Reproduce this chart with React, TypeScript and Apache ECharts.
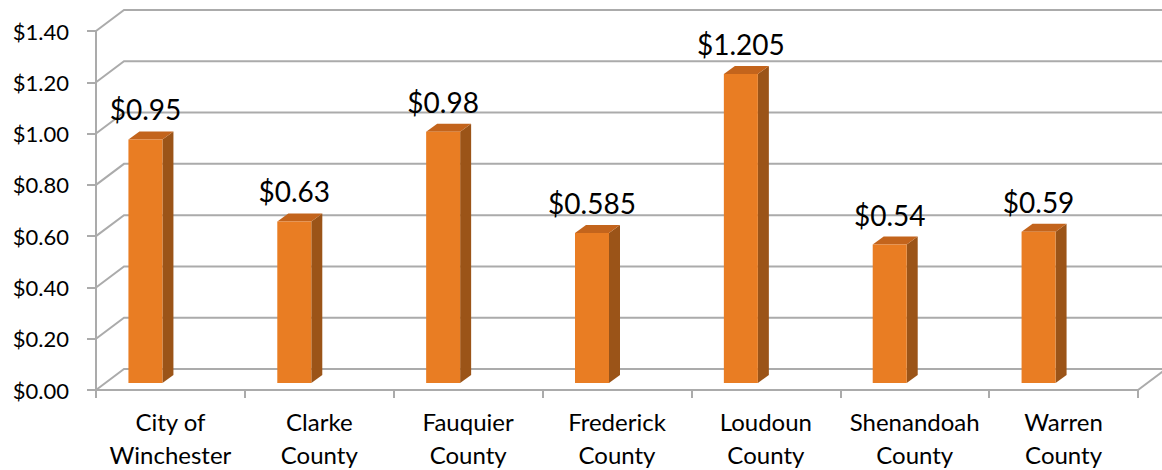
import React, { useEffect, useRef } from "react";
import * as echarts from "echarts";

const categories = [
  "City of\nWinchester",
  "Clarke\nCounty",
  "Fauquier\nCounty",
  "Frederick\nCounty",
  "Loudoun\nCounty",
  "Shenandoah\nCounty",
  "Warren\nCounty",
];
const values = [0.95, 0.63, 0.98, 0.585, 1.205, 0.54, 0.59];
const yTicks = [0, 0.2, 0.4, 0.6, 0.8, 1.0, 1.2, 1.4];

const GRID_COLOR = "#ABABAB";
const FRONT = "#E97D23";
const TOP = "#C3641C";
const SIDE = "#9B5418";
const FONT = "Lato, 'Open Sans', sans-serif";

function money(v: number): string {
  const s = String(v);
  const dec = s.includes(".") ? s.split(".")[1].length : 0;
  return "$" + v.toFixed(Math.max(2, dec));
}

export default function App() {
  const ref = useRef<HTMLDivElement>(null);
  useEffect(() => {
    document.body.style.margin = "0";
    if (!ref.current) return;
    const chart = echarts.init(ref.current, undefined, { renderer: "svg" });
    const DX = 28;
    const DY = 21;
    chart.setOption({
      animation: false,
      backgroundColor: "#ffffff",
      grid: {
        left: 96,
        right: 24,
        top: 31,
        bottom: 80,
        containLabel: false,
        outerBoundsMode: "none",
      },
      xAxis: {
        type: "category",
        data: categories,
        axisLine: { show: true, lineStyle: { color: GRID_COLOR, width: 2 } },
        axisTick: { show: true, length: 8, lineStyle: { color: GRID_COLOR, width: 2 } },
        axisLabel: {
          color: "#000",
          fontSize: 24,
          fontFamily: FONT,
          lineHeight: 33,
          margin: 15,
          interval: 0,
        },
        splitLine: { show: false },
      },
      yAxis: {
        type: "value",
        min: 0,
        max: 1.4,
        interval: 0.2,
        axisLine: { show: true, lineStyle: { color: GRID_COLOR, width: 2 } },
        axisTick: { show: true, length: 9, lineStyle: { color: GRID_COLOR, width: 2 } },
        axisLabel: {
          color: "#000",
          fontSize: 22,
          fontFamily: FONT,
          margin: 27,
          formatter: (v: number) => "$" + v.toFixed(2),
        },
        splitLine: { show: false },
      },
      series: [
        {
          type: "custom",
          z: 1,
          silent: true,
          data: yTicks.map((t) => [0, t]),
          encode: { x: 0, y: 1 },
          renderItem: (params: any, api: any) => {
            const cs = params.coordSys;
            const y = api.coord([0, api.value(1)])[1];
            const x0 = cs.x;
            const x1 = cs.x + cs.width;
            const children: any[] = [
              {
                type: "polyline",
                shape: {
                  points: [
                    [x0, y],
                    [x0 + DX, y - DY],
                    [x1 + DX + 40, y - DY],
                  ],
                },
                style: { stroke: GRID_COLOR, lineWidth: 2, fill: "none" },
              },
            ];
            if (api.value(1) === 0) {
              children.push({
                type: "line",
                shape: { x1: x1, y1: y, x2: x1 + DX, y2: y - DY },
                style: { stroke: GRID_COLOR, lineWidth: 2 },
              });
            }
            return { type: "group", children };
          },
        },
        {
          type: "custom",
          z: 3,
          data: values.map((v, i) => [i, v]),
          encode: { x: 0, y: 1 },
          renderItem: (params: any, api: any) => {
            const i = api.value(0);
            const v = api.value(1);
            const c = api.coord([i, v]);
            const b = api.coord([i, 0]);
            const fw = 34;
            const dx = 11;
            const dy = 8;
            const xl = c[0] - 42;
            const xr = xl + fw;
            const yt = c[1] - 7;
            const yb = b[1] - 7;
            return {
              type: "group",
              children: [
                {
                  type: "polygon",
                  shape: { points: [[xr, yt], [xr + dx, yt - dy], [xr + dx, yb - dy], [xr, yb]] },
                  style: { fill: SIDE },
                },
                {
                  type: "polygon",
                  shape: { points: [[xl, yt], [xl + dx, yt - dy], [xr + dx, yt - dy], [xr, yt]] },
                  style: { fill: TOP },
                },
                {
                  type: "rect",
                  shape: { x: xl, y: yt, width: fw, height: yb - yt },
                  style: { fill: FRONT },
                },
                {
                  type: "text",
                  x: (xl + xr) / 2,
                  y: yt - 30,
                  style: {
                    text: money(values[params.dataIndex]),
                    fill: "#000",
                    fontSize: 28,
                    fontFamily: FONT,
                    align: "center",
                    verticalAlign: "middle",
                  },
                },
              ],
            };
          },
        },
      ],
    });
    return () => chart.dispose();
  }, []);
  return <div ref={ref} style={{ width: 1162, height: 470 }} />;
}
